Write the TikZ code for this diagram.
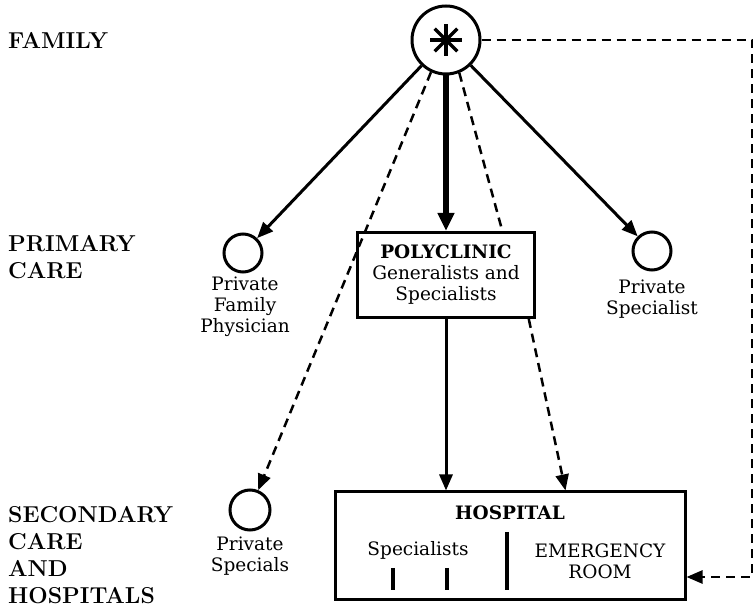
\documentclass[tikz,border=0pt]{standalone}
\usepackage{fontspec}
\newfontfamily\nodefont{DejaVu Serif}
\usetikzlibrary{arrows.meta}
\begin{document}
\begin{tikzpicture}[x=1pt,y=-1pt,
  level/.style={anchor=west,align=left,inner sep=0pt,font=\fontsize{23}{27}\selectfont\bfseries},
  txt/.style={align=center,inner sep=0pt,font=\nodefont\fontsize{18.5}{21}\selectfont},
  btxt/.style={align=center,inner sep=0pt,font=\nodefont\fontsize{18.5}{21}\selectfont\bfseries},
  ring/.style={circle,draw,line width=3pt,inner sep=0pt},
  box/.style={rectangle,draw,line width=3pt,inner sep=0pt},
  tip/.style={-{Triangle[length=16pt,width=13pt]}},
  arr/.style={tip,line width=3pt},
  bigarr/.style={-{Triangle[length=18pt,width=16pt]},line width=6pt},
  dasharr/.style={tip,line width=2.5pt,dash pattern=on 9pt off 6pt},
  dline/.style={line width=2.5pt,dash pattern=on 9pt off 6pt},
  bar/.style={line width=3.5pt}]
\useasboundingbox (0,0) rectangle (756,609);

% level labels
\node[level] (lfam) at (8,40) {FAMILY};
\node[level] (lprim) at (8,257) {PRIMARY\\CARE};
\node[level] (lsec) at (8,555) {SECONDARY\\CARE\\AND\\HOSPITALS};

% family
\node[ring,minimum size=68pt] (fam) at (446,40) {};
\foreach \a in {90,45,0,-45,-90,-135,180,135}
  \draw[line width=3.5pt] (fam.center) -- ++(\a:16pt);

% primary care
\node[ring,minimum size=38pt] (pfp) at (243,253) {};
\node[txt] (pfpl) at (245,307) {Private\\Family\\Physician};
\node[ring,minimum size=38pt] (psp) at (652,251) {};
\node[txt] (pspl) at (652,299) {Private\\Specialist};
\node[box,minimum width=177pt,minimum height=85pt] (poly) at (446,275) {};
\node[txt] (polyl) at (446,275) {\textbf{POLYCLINIC}\\Generalists and\\Specialists};

% secondary care
\node[ring,minimum size=40pt] (pss) at (250,510) {};
\node[txt] (pssl) at (250,556) {Private\\Specials};
\node[box,minimum width=350pt,minimum height=108pt] (hosp) at (510,546) {};
\node[btxt] (hospl) at (510,513) {HOSPITAL};
\node[txt] (specl) at (418,550) {Specialists};
\node[txt] (erl) at (600,561) {EMERGENCY\\ROOM};
\coordinate (d1) at (507,532);
\coordinate (d2) at (507,590);
\coordinate (b1) at (393,568);
\coordinate (b2) at (393,590);
\coordinate (b3) at (447,568);
\coordinate (b4) at (447,590);
\draw[bar] (d1) -- (d2);
\draw[bar] (b1) -- (b2);
\draw[bar] (b3) -- (b4);

% connectors
\draw[arr] (fam) -- (pfp);
\draw[arr] (fam) -- (psp);
\draw[bigarr] (fam.south) -- (poly.north);
\draw[dasharr] (fam.-115) -- (pss);
\draw[dline] (fam.-68) -- (poly.38);
\draw[arr] (poly.south) -- (poly.south |- hosp.north);
\draw[dasharr] (poly.-28) -- (hosp.45.5);
\coordinate (rt) at (752,40);
\coordinate (rb) at (752,577);
\draw[dasharr] (fam.east) -- (rt) -- (rb) -- (hosp.east |- rb);
\end{tikzpicture}
\end{document}
